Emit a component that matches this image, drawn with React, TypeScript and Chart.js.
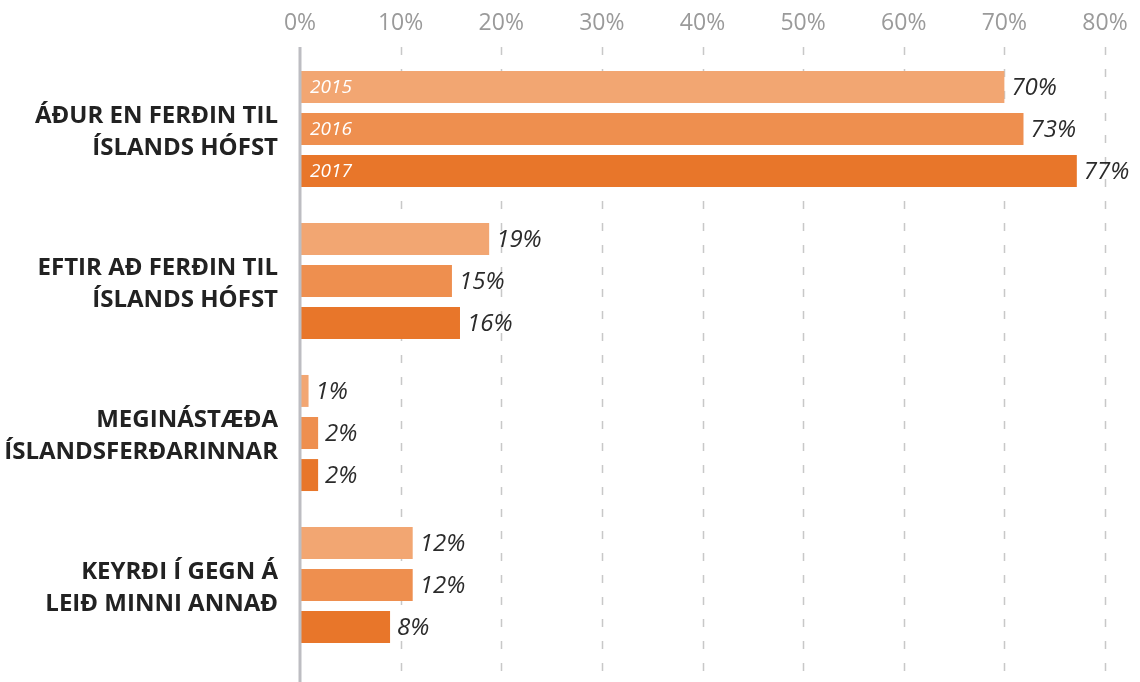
import React, { useEffect, useRef } from "react";
import { Chart, registerables } from "chart.js";

Chart.register(...registerables);

const categories: string[][] = [
  ["ÁÐUR EN FERÐIN TIL", "ÍSLANDS HÓFST"],
  ["EFTIR AÐ FERÐIN TIL", "ÍSLANDS HÓFST"],
  ["MEGINÁSTÆÐA", "ÍSLANDSFERÐARINNAR"],
  ["KEYRÐI Í GEGN Á", "LEIÐ MINNI ANNAÐ"],
];
const years = ["2015", "2016", "2017"];
const values2015 = [70, 18.8, 0.85, 11.2];
const values2016 = [71.9, 15.1, 1.8, 11.2];
const values2017 = [77.2, 15.9, 1.8, 8.95];
const labels2015 = ["70%", "19%", "1%", "12%"];
const labels2016 = ["73%", "15%", "2%", "12%"];
const labels2017 = ["77%", "16%", "2%", "8%"];
const tickValues = [0, 10, 20, 30, 40, 50, 60, 70, 80];
const colors = ["#F2A672", "#EE8F4F", "#E8762A"];

export default function App() {
  const ref = useRef<HTMLCanvasElement | null>(null);

  useEffect(() => {
    document.body.style.margin = "0";
    const canvas = ref.current;
    if (!canvas) return;
    const valueSets = [values2015, values2016, values2017];
    const labelSets = [labels2015, labels2016, labels2017];

    const gridPlugin = {
      id: "customGrid",
      beforeDatasetsDraw(chart: any) {
        const ctx = chart.ctx;
        const xs = chart.scales.x;
        const top = 47;
        const bottom = chart.height;
        ctx.save();
        tickValues.forEach((v) => {
          const x = Math.round(xs.getPixelForValue(v));
          if (v === 0) return;
          ctx.beginPath();
          ctx.setLineDash([8, 14]);
          ctx.strokeStyle = "#C8C8C8";
          ctx.lineWidth = 1.5;
          ctx.moveTo(x + 0.5, top);
          ctx.lineTo(x + 0.5, bottom);
          ctx.stroke();
        });
        ctx.restore();
      },
      afterDatasetsDraw(chart: any) {
        const ctx = chart.ctx;
        const xs = chart.scales.x;
        ctx.save();
        const x0 = xs.getPixelForValue(0);
        ctx.beginPath();
        ctx.setLineDash([]);
        ctx.strokeStyle = "#BDBDC2";
        ctx.lineWidth = 3;
        ctx.moveTo(x0, 47);
        ctx.lineTo(x0, chart.height);
        ctx.stroke();

        chart.data.datasets.forEach((ds: any, di: number) => {
          const meta = chart.getDatasetMeta(di);
          meta.data.forEach((bar: any, i: number) => {
            ctx.font = "italic 24px 'Open Sans', sans-serif";
            ctx.fillStyle = "#2B2B2B";
            ctx.textAlign = "left";
            ctx.textBaseline = "middle";
            ctx.fillText(labelSets[di][i], bar.x + 7, bar.y + 1);
            if (i === 0) {
              ctx.font = "italic 19px 'Open Sans', sans-serif";
              ctx.fillStyle = "#FFFFFF";
              ctx.fillText(years[di], x0 + 10, bar.y + 1);
            }
          });
        });
        ctx.restore();
      },
    };

    const chart = new Chart(canvas, {
      type: "bar",
      data: {
        labels: categories,
        datasets: years.map((y, i) => ({
          label: y,
          data: valueSets[i],
          backgroundColor: colors[i],
          borderWidth: 0,
          categoryPercentage: 0.83,
          barPercentage: 0.76,
        })),
      },
      options: {
        indexAxis: "y",
        animation: false,
        responsive: false,
        maintainAspectRatio: false,
        layout: { padding: { top: 0, right: 35, bottom: 21, left: 0 } },
        plugins: {
          legend: { display: false },
          tooltip: { enabled: false },
        },
        scales: {
          x: {
            position: "top",
            min: 0,
            max: 80,
            border: { display: false },
            grid: { display: false, drawTicks: false },
            afterFit(scale: any) {
              scale.height = 53;
              scale.paddingLeft = 0;
              scale.paddingRight = 0;
            },
            afterBuildTicks(scale: any) {
              scale.ticks = tickValues.map((v) => ({ value: v }));
            },
            ticks: {
              padding: 16,
              color: "#9A9A9A",
              font: { family: "'Open Sans', sans-serif", size: 23 },
              callback: (v: any) => v + "%",
            },
          },
          y: {
            border: { display: false },
            grid: { display: false, drawTicks: false },
            afterFit(scale: any) {
              scale.width = 300;
              scale.paddingTop = 0;
              scale.paddingBottom = 0;
            },
            ticks: {
              padding: 22,
              labelOffset: 3,
              color: "#222222",
              font: { family: "'Open Sans', sans-serif", size: 24, weight: "bold", lineHeight: 1.33 },
            },
          },
        },
      },
      plugins: [gridPlugin],
    } as any);

    return () => chart.destroy();
  }, []);

  return (
    <div style={{ width: 1140, height: 682 }}>
      <canvas ref={ref} width={1140} height={682} style={{ display: "block" }} />
    </div>
  );
}
